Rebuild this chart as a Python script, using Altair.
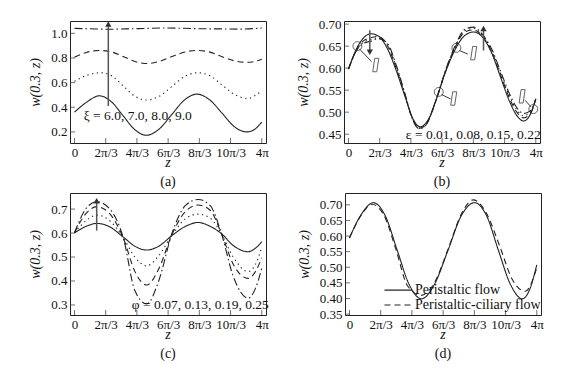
import math
import altair as alt
import pandas as pd

PI = math.pi
FONT = "Liberation Serif"

# ---------------- axis tick definitions ----------------
x_tick_values = [0, 2 * PI / 3, 4 * PI / 3, 2 * PI, 8 * PI / 3, 10 * PI / 3, 4 * PI]
x_tick_labels = ["0", "2π/3", "4π/3", "6π/3", "8π/3", "10π/3", "4π"]

# ---------------- panel (a): xi = 6, 7, 8, 9 ----------------
a_solid_z = [0, 0.8, 1.67, 2.46, 3.25, 4.03, 4.82, 5.67, 6.52, 7.37, 8.22, 9.05, 9.89, 10.7, 11.56, 12.1, 12.566]
a_solid_w = [0.36, 0.44, 0.493, 0.446, 0.333, 0.22, 0.173, 0.222, 0.34, 0.458, 0.507, 0.462, 0.354, 0.245, 0.20, 0.222, 0.28]
a_dot_z = [0, 0.85, 1.75, 2.5, 3.3, 4.05, 4.85, 5.7, 6.55, 7.4, 8.25, 9.1, 9.95, 10.8, 11.65, 12.15, 12.566]
a_dot_w = [0.61, 0.66, 0.68, 0.655, 0.57, 0.49, 0.459, 0.49, 0.57, 0.65, 0.68, 0.655, 0.576, 0.50, 0.472, 0.497, 0.535]
a_dash_z = [0, 0.8, 1.6, 2.45, 3.3, 4.1, 4.9, 5.7, 6.5, 7.4, 8.2, 9.0, 9.9, 10.8, 11.6, 12.1, 12.566]
a_dash_w = [0.805, 0.845, 0.861, 0.85, 0.81, 0.77, 0.755, 0.772, 0.81, 0.848, 0.861, 0.85, 0.81, 0.775, 0.765, 0.772, 0.79]
a_dd_z = [0, 1.0, 2.2, 3.5, 4.8, 6.0, 7.3, 8.5, 9.8, 11.0, 12.566]
a_dd_w = [1.04, 1.037, 1.033, 1.036, 1.04, 1.043, 1.041, 1.037, 1.036, 1.034, 1.043]

# ---------------- panel (b): epsilon = 0.01 .. 0.22 ----------------
b_z = [0, 0.6, 1.0, 1.5, 2.0, 2.6, 3.2, 3.8, 4.3, 4.8, 5.3, 5.9, 6.5, 7.2, 7.8, 8.4, 9.0, 9.6, 10.2, 10.8, 11.3, 11.75, 12.2, 12.566]
b_solid_w = [0.598, 0.648, 0.668, 0.678, 0.673, 0.645, 0.595, 0.535, 0.487, 0.467, 0.48, 0.53, 0.59, 0.645, 0.674, 0.682, 0.67, 0.635, 0.58, 0.525, 0.492, 0.48, 0.495, 0.53]
b_dash_w = [0.598, 0.645, 0.662, 0.669, 0.672, 0.652, 0.600, 0.537, 0.485, 0.464, 0.478, 0.53, 0.592, 0.650, 0.682, 0.687, 0.672, 0.638, 0.585, 0.532, 0.500, 0.487, 0.497, 0.53]
b_dot_w = [0.598, 0.644, 0.659, 0.665, 0.669, 0.655, 0.604, 0.539, 0.484, 0.463, 0.477, 0.53, 0.593, 0.652, 0.685, 0.690, 0.674, 0.641, 0.589, 0.537, 0.505, 0.492, 0.500, 0.53]
b_dd_w = [0.598, 0.643, 0.656, 0.661, 0.667, 0.657, 0.607, 0.541, 0.483, 0.462, 0.476, 0.53, 0.594, 0.654, 0.688, 0.693, 0.676, 0.644, 0.593, 0.542, 0.510, 0.497, 0.503, 0.53]
b_circle_z = [0.6, 6.06, 7.24, 12.4]
b_circle_w = [0.65, 0.546, 0.646, 0.507]
b_link_z = [0.75, 6.25, 7.45, 12.25]
b_link_w = [0.643, 0.54, 0.64, 0.512]
b_link_z2 = [1.55, 6.85, 8.0, 11.85]
b_link_w2 = [0.615, 0.53, 0.632, 0.527]
b_box_z = [1.83, 7.06, 8.4, 11.65]
b_box_w = [0.607, 0.531, 0.634, 0.536]

# ---------------- panel (c): phi = 0.07 .. 0.25 ----------------
c_z = [0, 0.75, 1.5, 2.3, 3.3, 4.05, 4.85, 5.65, 6.55, 7.45, 8.3, 9.1, 9.85, 10.65, 11.65, 12.15, 12.566]
c_solid_w = [0.601, 0.627, 0.64, 0.628, 0.582, 0.545, 0.529, 0.545, 0.59, 0.628, 0.644, 0.628, 0.598, 0.548, 0.522, 0.537, 0.564]
c_dot_w = [0.601, 0.65, 0.675, 0.655, 0.578, 0.50, 0.463, 0.505, 0.592, 0.66, 0.679, 0.662, 0.598, 0.50, 0.439, 0.47, 0.54]
c_dash_w = [0.601, 0.68, 0.71, 0.685, 0.575, 0.44, 0.383, 0.45, 0.595, 0.69, 0.717, 0.695, 0.60, 0.47, 0.411, 0.44, 0.497]
c_dd_w = [0.601, 0.70, 0.731, 0.705, 0.574, 0.36, 0.304, 0.40, 0.60, 0.715, 0.74, 0.715, 0.60, 0.42, 0.328, 0.37, 0.453]

# ---------------- panel (d): two flows ----------------
d_solid_z = [0, 0.8, 1.6, 2.4, 3.2, 4.0, 4.83, 5.7, 6.6, 7.5, 8.4, 9.2, 10.0, 10.8, 11.6, 12.1, 12.566]
d_solid_w = [0.594, 0.67, 0.707, 0.665, 0.555, 0.445, 0.399, 0.445, 0.553, 0.665, 0.707, 0.665, 0.553, 0.445, 0.399, 0.43, 0.508]
d_dash_z = [0, 0.8, 1.5, 2.3, 3.1, 3.9, 4.8, 5.7, 6.6, 7.5, 8.3, 9.2, 10.1, 10.9, 11.8, 12.566]
d_dash_w = [0.594, 0.668, 0.702, 0.668, 0.56, 0.44, 0.41, 0.45, 0.556, 0.67, 0.716, 0.672, 0.565, 0.463, 0.423, 0.498]
d_series = ["Peristaltic flow", "Peristaltic-ciliary flow"]
d_legend_z = [2.35, 2.35]
d_legend_z2 = [4.2, 4.2]
d_legend_w = [0.427, 0.379]

# ---------------- styles ----------------
DASHES = {"solid": [1, 0], "dot": [1.3, 3.5], "dash": [6, 4], "dd": [8, 3, 1.5, 3]}
W, H = 196, 122
XDOM = [-0.3, 12.85]


def label_expr(values, labels):
    expr = "'" + labels[-1] + "'"
    for v, l in reversed(list(zip(values[:-1], labels[:-1]))):
        expr = f"abs(datum.value - {v:.5f}) < 0.01 ? '{l}' : ({expr})"
    return expr


X_LABEL_EXPR = label_expr(x_tick_values, x_tick_labels)


def xenc():
    return alt.X("z:Q", scale=alt.Scale(domain=XDOM, nice=False, zero=False),
                 axis=alt.Axis(values=x_tick_values, labelExpr=X_LABEL_EXPR, title=None))


def yenc(dom, ticks, fmt):
    return alt.Y("w:Q", scale=alt.Scale(domain=dom, nice=False, zero=False),
                 axis=alt.Axis(values=ticks, format=fmt, title="w(0.3, z)"))


def line(z, w, style, ydom, yticks, fmt, color="#222"):
    df = pd.DataFrame({"z": z, "w": w})
    return alt.Chart(df).mark_line(interpolate="monotone", color=color, strokeWidth=1.1,
                                   strokeDash=DASHES[style], clip=True).encode(
        x=xenc(), y=yenc(ydom, yticks, fmt))


def inner_ticks(ydom, yticks, fmt):
    xt = alt.Chart(pd.DataFrame({"z": x_tick_values})).mark_tick(
        orient="vertical", size=5, thickness=1, color="#333").encode(x=xenc(), y=alt.value(H - 2.5))
    yt = alt.Chart(pd.DataFrame({"w": yticks})).mark_tick(
        orient="horizontal", size=5, thickness=1, color="#333").encode(
        y=yenc(ydom, yticks, fmt), x=alt.value(2.5))
    return [xt, yt]


def xtitle():
    # italic axis title "z" under the tick labels
    return alt.Chart(pd.DataFrame({"t": ["z"]})).mark_text(
        font=FONT, fontSize=14, fontStyle="italic", color="#111", baseline="middle", align="center"
    ).encode(x=alt.value(W / 2), y=alt.value(H + 20), text="t:N")


def arrow(z, w0, w1, up, ydom, yticks, fmt):
    shaft = alt.Chart(pd.DataFrame({"z": [z], "w": [w0], "w2": [w1]})).mark_rule(
        color="#555", strokeWidth=1.5).encode(x=xenc(), y=yenc(ydom, yticks, fmt), y2="w2")
    head = alt.Chart(pd.DataFrame({"z": [z], "w": [w1]})).mark_point(
        shape="triangle-up" if up else "triangle-down", filled=True, color="#333", size=40, opacity=1).encode(
        x=xenc(), y=yenc(ydom, yticks, fmt))
    return [shaft, head]


def note(z, w, text, ydom, yticks, fmt):
    return alt.Chart(pd.DataFrame({"z": [z], "w": [w], "t": [text]})).mark_text(
        align="left", baseline="middle", font=FONT, fontSize=13.5, color="#111").encode(
        x=xenc(), y=yenc(ydom, yticks, fmt), text="t:N")


def caption(t):
    return alt.TitleParams(t, orient="bottom", anchor="middle", font=FONT, fontSize=14,
                           fontWeight="normal", color="#111", offset=5)


# panel a
ya = ([0.11, 1.10], [0.2, 0.4, 0.6, 0.8, 1.0], ".1f")
pa = alt.layer(
    line(a_solid_z, a_solid_w, "solid", *ya),
    line(a_dot_z, a_dot_w, "dot", *ya),
    line(a_dash_z, a_dash_w, "dash", *ya),
    line(a_dd_z, a_dd_w, "dd", *ya),
    *inner_ticks(*ya),
    *arrow(2.27, 0.41, 1.075, True, *ya),
    note(0.62, 0.33, "ξ = 6.0, 7.0, 8.0, 9.0", *ya),
    xtitle(),
).properties(width=W, height=H, title=caption("(a)"))

# panel b
yb = ([0.43, 0.707], [0.45, 0.50, 0.55, 0.60, 0.65, 0.70], ".2f")
circles = alt.Chart(pd.DataFrame({"z": b_circle_z, "w": b_circle_w})).mark_point(
    shape="circle", size=80, color="#222", strokeWidth=1, filled=False).encode(x=xenc(), y=yenc(*yb))
links = alt.Chart(pd.DataFrame({"z": b_link_z, "w": b_link_w, "z2": b_link_z2, "w2": b_link_w2})).mark_rule(
    color="#222", strokeWidth=0.9).encode(x=xenc(), y=yenc(*yb), x2="z2", y2="w2")
boxes = alt.Chart(pd.DataFrame({"z": b_box_z, "w": b_box_w})).mark_point(
    shape="M -0.15 -1 L 0.45 -1 L 0.15 1 L -0.45 1 Z", size=180, color="#222", strokeWidth=1,
    filled=False).encode(x=xenc(), y=yenc(*yb))
pb = alt.layer(
    line(b_z, b_solid_w, "solid", *yb),
    line(b_z, b_dash_w, "dash", *yb),
    line(b_z, b_dot_w, "dot", *yb),
    line(b_z, b_dd_w, "dd", *yb),
    *inner_ticks(*yb),
    circles, links, boxes,
    *arrow(1.43, 0.686, 0.636, False, *yb),
    *arrow(9.06, 0.64, 0.69, True, *yb),
    note(3.85, 0.449, "ε = 0.01, 0.08, 0.15, 0.22", *yb),
    xtitle(),
).properties(width=W, height=H, title=caption("(b)"))

# panel c
yc = ([0.258, 0.767], [0.3, 0.4, 0.5, 0.6, 0.7], ".1f")
pc = alt.layer(
    line(c_z, c_solid_w, "solid", *yc),
    line(c_z, c_dot_w, "dot", *yc),
    line(c_z, c_dash_w, "dash", *yc),
    line(c_z, c_dd_w, "dd", *yc),
    *inner_ticks(*yc),
    *arrow(1.49, 0.61, 0.735, True, *yc),
    note(3.85, 0.30, "φ = 0.07, 0.13, 0.19, 0.25", *yc),
    xtitle(),
).properties(width=W, height=H, title=caption("(c)"))

# panel d
yd = ([0.347, 0.738], [0.35, 0.40, 0.45, 0.50, 0.55, 0.60, 0.65, 0.70], ".2f")
dash_scale = alt.Scale(domain=d_series, range=[[1, 0], [6, 4]])
df_d = pd.concat([
    pd.DataFrame({"z": d_solid_z, "w": d_solid_w, "s": d_series[0]}),
    pd.DataFrame({"z": d_dash_z, "w": d_dash_w, "s": d_series[1]}),
])
d_lines = alt.Chart(df_d).mark_line(interpolate="monotone", color="#222", strokeWidth=1.1).encode(
    x=xenc(), y=yenc(*yd), strokeDash=alt.StrokeDash("s:N", scale=dash_scale, legend=None))
df_leg = pd.DataFrame({"z": d_legend_z, "z2": d_legend_z2, "w": d_legend_w, "s": d_series})
df_leg_text = pd.DataFrame({"z": d_legend_z2, "w": d_legend_w, "s": d_series})
leg_lines = alt.Chart(df_leg).mark_rule(color="#222", strokeWidth=1.2).encode(
    x=xenc(), x2="z2", y=yenc(*yd), strokeDash=alt.StrokeDash("s:N", scale=dash_scale, legend=None))
leg_text = alt.Chart(df_leg_text).mark_text(align="left", baseline="middle", font=FONT, fontSize=14,
                                            color="#111", dx=3).encode(
    x=xenc(), y=yenc(*yd), text="s:N")
pdd = alt.layer(d_lines, *inner_ticks(*yd), leg_lines, leg_text, xtitle()).properties(
    width=W, height=H, title=caption("(d)"))

chart = alt.vconcat(
    alt.hconcat(pa, pb, spacing=26),
    alt.hconcat(pc, pdd, spacing=26),
    spacing=2,
).properties(
    padding={"left": 20, "top": 9, "right": 0, "bottom": 0}
).resolve_scale(x="independent", y="independent").configure_view(
    stroke="#222", strokeWidth=1
).configure_axis(
    grid=False, domain=False, ticks=False, labelPadding=3,
    labelFont=FONT, labelFontSize=13, labelColor="#111",
    titleFont=FONT, titleFontSize=14, titleFontWeight="normal", titleColor="#111",
    titleFontStyle="italic", titlePadding=8,
)

chart.save("out.html", embed_options={"renderer": "svg", "actions": False})
